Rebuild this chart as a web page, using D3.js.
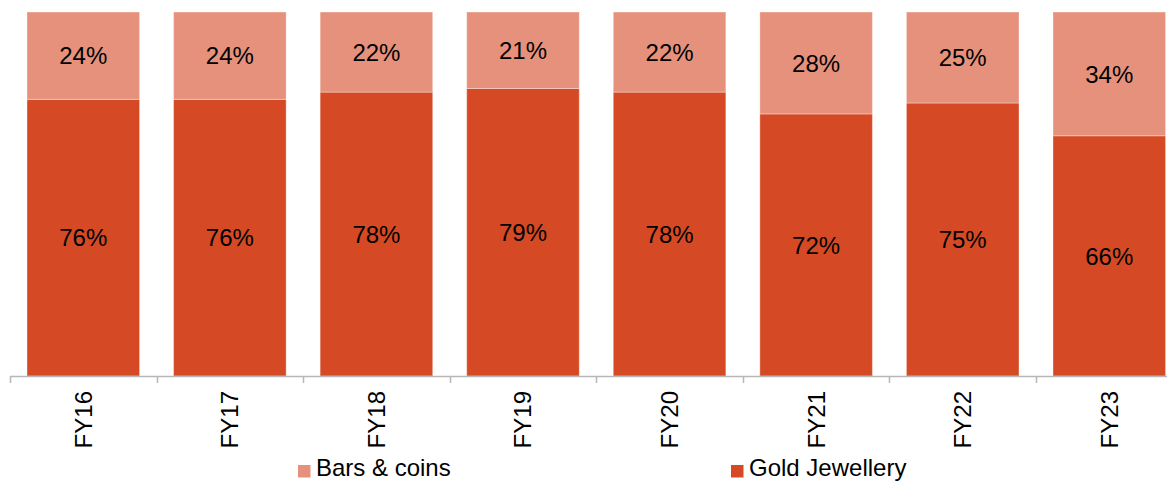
<!DOCTYPE html>
<html><head><meta charset="utf-8">
<script src="https://cdn.jsdelivr.net/npm/d3@7"></script>
<style>body{margin:0;background:#fff}svg{display:block}text{font-family:"Liberation Sans",Arial,sans-serif;fill:#000}</style>
</head><body>
<svg id="c" width="1167" height="481"></svg>
<script>
const categories = ["FY16","FY17","FY18","FY19","FY20","FY21","FY22","FY23"];
const goldJewellery = [76,76,78,79,78,72,75,66];
const barsCoins = [24,24,22,21,22,28,25,34];
const seriesNames = ["Bars & coins","Gold Jewellery"];
const colors = {"Gold Jewellery":"#D54A24","Bars & coins":"#E6917C"};

const svg = d3.select("#c");
const step = 146.57;
const x0 = 10, yTop = 12, yBase = 376;
const x = d3.scaleBand().domain(categories).range([x0, x0 + step*categories.length]).paddingInner(0.232).paddingOuter(0.116);
const y = d3.scaleLinear().domain([0,100]).range([yBase, yTop]);

const rows = categories.map((c,i)=>({cat:c,"Gold Jewellery":goldJewellery[i],"Bars & coins":barsCoins[i]}));
const stack = d3.stack().keys(["Gold Jewellery","Bars & coins"])(rows);

const g = svg.append("g");
stack.forEach(s=>{
  g.selectAll(null).data(s).enter().append("rect")
    .attr("x",d=>x(d.data.cat)).attr("width",x.bandwidth())
    .attr("y",d=>y(d[1])).attr("height",d=>y(d[0])-y(d[1]))
    .attr("fill",colors[s.key]).attr("stroke","rgba(255,255,255,0.35)").attr("stroke-width",1);
  g.selectAll(null).data(s).enter().append("text")
    .attr("x",d=>x(d.data.cat)+x.bandwidth()/2)
    .attr("y",d=>(y(d[0])+y(d[1]))/2)
    .attr("dy","0.36em").attr("text-anchor","middle").attr("font-size",24)
    .text(d=>(d[1]-d[0])+"%");
});

// axis
const ax = svg.append("g");
ax.append("line").attr("x1",x0).attr("x2",1167).attr("y1",yBase+0.5).attr("y2",yBase+0.5).attr("stroke","#b7b7b7").attr("stroke-width",1.5);
d3.range(categories.length+1).forEach(i=>{
  const tx = Math.round(x0 + step*i)+0.5;
  ax.append("line").attr("x1",tx).attr("x2",tx).attr("y1",yBase).attr("y2",yBase+7).attr("stroke","#b7b7b7").attr("stroke-width",1.5);
});
ax.selectAll(null).data(categories).enter().append("text")
  .attr("transform",d=>`translate(${x(d)+x.bandwidth()/2+8.5},391) rotate(-90)`)
  .attr("text-anchor","end").attr("font-size",24).text(d=>d);

// legend
const legendPos = [{sx:298,tx:316},{sx:731,tx:749}];
seriesNames.forEach((n,i)=>{
  svg.append("rect").attr("x",legendPos[i].sx).attr("y",465).attr("width",12.5).attr("height",12.5).attr("fill",colors[n]);
  svg.append("text").attr("x",legendPos[i].tx).attr("y",476).attr("font-size",24).text(n);
});
</script>
</body></html>
